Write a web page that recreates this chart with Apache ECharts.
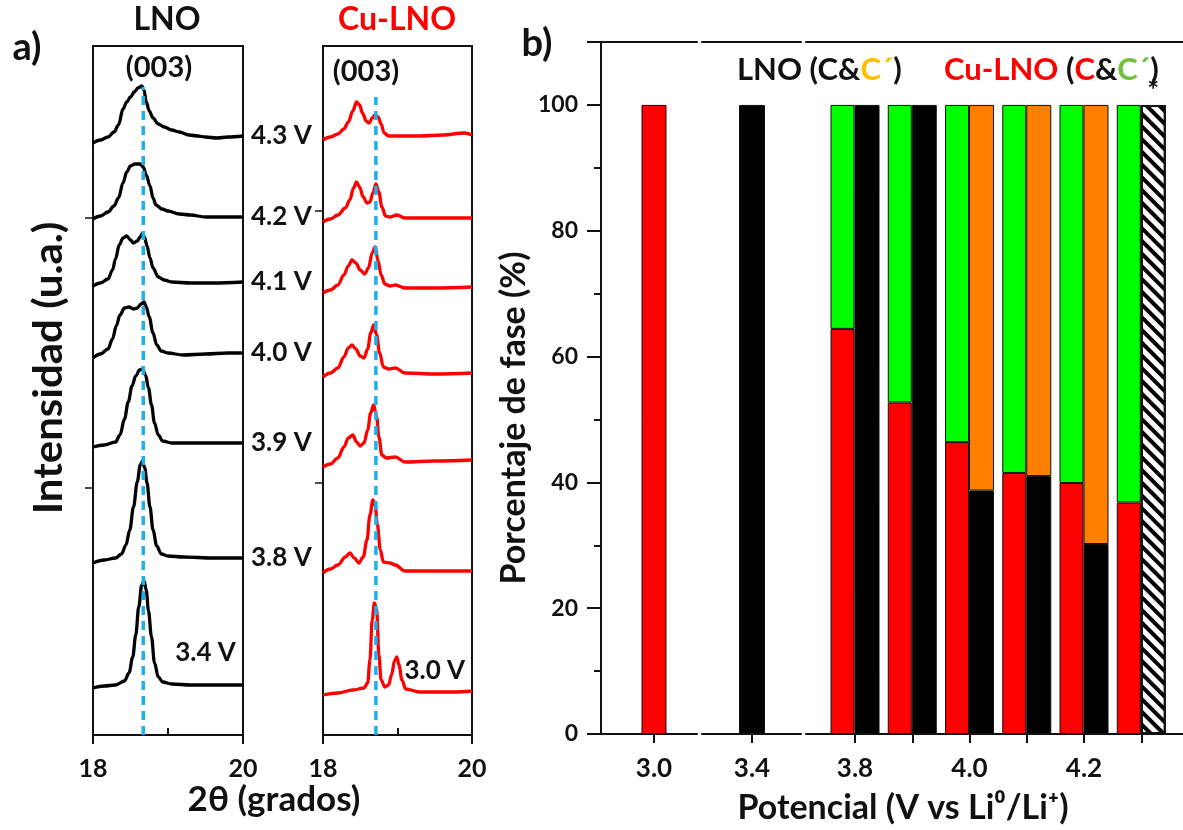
<!DOCTYPE html>
<html><head><meta charset="utf-8">
<script src="https://cdn.jsdelivr.net/npm/echarts@6/dist/echarts.min.js"></script>
<style>html,body{margin:0;padding:0;background:#fff}#c{width:1183px;height:830px}</style>
</head><body><div id="c"></div>
<script>
// ---------- Panel a) XRD (003) region : [2θ (grados), intensidad (u.a., stacked as plotted)] ----------
const lno43 = [[18.00,592],[18.10,595],[18.20,598],[18.28,603],[18.34,610],[18.40,626],[18.45,633],[18.50,638],[18.55,643],[18.60,647],[18.65,649],[18.68,645],[18.71,633],[18.75,624],[18.80,617],[18.87,611],[18.95,608],[19.05,605],[19.15,603],[19.28,600],[19.40,599],[19.50,598],[19.65,597],[19.80,598],[20.00,599]];
const lno42 = [[18.00,516],[18.10,519],[18.20,523],[18.28,529],[18.34,537],[18.40,552],[18.45,563],[18.50,569],[18.56,571],[18.63,571],[18.67,568],[18.71,560],[18.76,549],[18.80,537],[18.84,530],[18.92,526],[19.00,524],[19.15,521],[19.30,520],[19.50,518],[19.75,518],[20.00,518]];
const lno41 = [[18.00,449],[18.10,452],[18.20,456],[18.26,465],[18.30,476],[18.35,490],[18.40,497],[18.45,499],[18.50,495],[18.54,492],[18.59,494],[18.63,498],[18.66,502],[18.69,497],[18.72,489],[18.76,477],[18.80,467],[18.87,458],[18.95,455],[19.05,453],[19.30,452],[19.60,452],[20.00,453]];
const lno40 = [[18.00,377],[18.10,381],[18.20,386],[18.26,396],[18.31,409],[18.36,420],[18.42,427],[18.48,428],[18.54,426],[18.59,427],[18.64,431],[18.68,433],[18.71,428],[18.75,418],[18.80,402],[18.85,390],[18.91,384],[19.00,382],[19.20,380],[19.50,381],[19.80,382],[20.00,382]];
const lno39 = [[18.00,288],[18.15,290],[18.30,293],[18.36,300],[18.42,316],[18.47,333],[18.52,349],[18.57,359],[18.62,365],[18.66,366],[18.70,360],[18.74,347],[18.78,330],[18.82,312],[18.87,300],[18.93,294],[19.05,292],[19.40,292],[19.70,292],[20.00,292]];
const lno38 = [[18.00,172],[18.15,175],[18.30,177],[18.38,181],[18.44,190],[18.49,205],[18.54,228],[18.59,253],[18.63,270],[18.66,274],[18.69,267],[18.72,252],[18.76,228],[18.80,205],[18.85,189],[18.91,181],[19.00,179],[19.20,178],[19.60,177],[20.00,177]];
const lno34 = [[18.00,47],[18.15,49],[18.30,50],[18.42,54],[18.48,62],[18.53,78],[18.57,100],[18.61,128],[18.65,150],[18.68,154],[18.71,145],[18.74,124],[18.78,98],[18.82,72],[18.87,58],[18.93,53],[19.05,51],[19.30,50],[19.50,50],[19.75,50],[20.00,50]];

const cu43 = [[18.00,595],[18.10,598],[18.20,601],[18.28,606],[18.34,613],[18.40,624],[18.45,633],[18.49,630],[18.53,622],[18.58,614],[18.62,612],[18.66,617],[18.70,620],[18.74,618],[18.78,611],[18.82,602],[18.88,599],[19.00,599],[19.30,599],[19.60,600],[19.90,602],[20.00,600]];
const cu42 = [[18.00,513],[18.10,516],[18.20,520],[18.30,527],[18.36,535],[18.41,547],[18.45,553],[18.49,548],[18.54,538],[18.59,532],[18.63,533],[18.67,542],[18.71,551],[18.75,543],[18.79,528],[18.84,519],[18.90,518],[18.99,520],[19.10,517],[19.40,517],[20.00,517]];
const cu41 = [[18.00,442],[18.10,445],[18.20,450],[18.28,460],[18.34,469],[18.39,475],[18.44,472],[18.50,465],[18.56,461],[18.61,467],[18.66,482],[18.70,488],[18.74,474],[18.78,460],[18.83,451],[18.90,449],[18.97,450],[19.10,447],[19.50,447],[20.00,448]];
const cu40 = [[18.00,358],[18.10,362],[18.20,367],[18.28,378],[18.34,387],[18.39,390],[18.44,386],[18.50,379],[18.55,377],[18.60,386],[18.64,402],[18.68,410],[18.72,400],[18.76,382],[18.81,368],[18.88,366],[18.97,367],[19.10,362],[19.50,361],[20.00,362]];
const cu39 = [[18.00,268],[18.10,271],[18.20,277],[18.28,288],[18.34,297],[18.40,300],[18.45,293],[18.50,289],[18.55,292],[18.60,305],[18.64,322],[18.68,330],[18.72,318],[18.75,298],[18.79,280],[18.85,277],[18.97,278],[19.10,273],[19.50,274],[20.00,275]];
const cu38 = [[18.00,162],[18.10,166],[18.20,170],[18.30,178],[18.36,182],[18.42,177],[18.48,172],[18.54,178],[18.59,195],[18.63,220],[18.67,235],[18.70,230],[18.73,210],[18.77,185],[18.81,173],[18.90,172],[18.97,170],[19.10,164],[19.50,164],[20.00,164]];
const cu30 = [[18.00,40],[18.20,42],[18.40,45],[18.55,47],[18.60,52],[18.63,75],[18.66,115],[18.69,132],[18.72,125],[18.75,80],[18.78,55],[18.83,48],[18.88,50],[18.92,60],[18.96,74],[18.99,78],[19.02,70],[19.06,55],[19.11,46],[19.30,43],[19.50,43],[19.75,43],[20.00,44]];

const lnoTraces = [lno43, lno42, lno41, lno40, lno39, lno38, lno34];
const lnoNames  = ['4.3 V','4.2 V','4.1 V','4.0 V','3.9 V','3.8 V','3.4 V'];
const cuTraces  = [cu43, cu42, cu41, cu40, cu39, cu38, cu30];
const cuNames   = ['4.3 V','4.2 V','4.1 V','4.0 V','3.9 V','3.8 V','3.0 V'];
const lnoRef = [[18.67, 0], [18.67, 648]];   // (003) reference, LNO
const cuRef  = [[18.71, 0], [18.71, 638]];   // (003) reference, Cu-LNO
const innerLabelTheta = 19.5;                // trace point that carries the in-box voltage label
const xrdTicks = [18, 20];
const xrdMinor = [19];

// ---------- Panel b) phase percentages ----------
const potentials   = ['3.8', '3.9', '4.0', '4.1', '4.2', '4.3'];
const cuC          = [64.4, 52.7, 46.4, 41.5, 39.9, 36.8];   // Cu-LNO, C (red)
const cuCprime     = [35.6, 47.3, 53.6, 58.5, 60.1, 63.2];   // Cu-LNO, C´ (green)
const lnoC         = [100, 100, 38.7, 41.0, 30.2, '-'];     // LNO, C (black)
const lnoCprime    = ['-', '-', 61.3, 59.0, 69.8, '-'];      // LNO, C´ (orange)
const lnoOther     = ['-', '-', '-', '-', '-', 100];          // LNO * (hatched)
const cuPristine   = [[3.0, 100]];                           // Cu-LNO at 3.0 V
const lnoPristine  = [[3.4, 100]];                           // LNO at 3.4 V
const pctLabels    = [0, 20, 40, 60, 80, 100];
const pctMajor     = [0, 20, 40, 60, 80, 100, 110];
const pctMinor     = [10, 30, 50, 70, 90];

const FONT = 'Lato, "Open Sans", sans-serif';
const RED = '#FF0000', GREEN = '#00FF00', ORANGE = '#FF8000', BLACK = '#000000', CYAN = '#1FB0EA', INK = '#111111';

const chart = echarts.init(document.getElementById('c'), null, {renderer: 'canvas'});

const grids = [
  {left: 93,  top: 46, width: 150, height: 689, show: true},   // 0 LNO xrd
  {left: 323, top: 46, width: 149, height: 689, show: true},   // 1 Cu-LNO xrd
  {left: 601, top: 42, width: 96,  height: 692},               // 2 bars 3.0
  {left: 702, top: 42, width: 99,  height: 692},               // 3 bars 3.4
  {left: 806, top: 42, width: 377, height: 692},               // 4 axis lines of 3.8-4.3 segment
  {left: 826.4, top: 42, width: 343.5, height: 692}            // 5 category bars 3.8-4.3
].map(g => Object.assign({containLabel: false, show: false, borderColor: INK, borderWidth: 2, backgroundColor: 'transparent'}, g));

const axisLbl = {fontFamily: FONT, fontWeight: 'bold', color: INK};
const lineOnly = pos => ({position: pos, axisLine: {show: true, onZero: false, lineStyle: {color: INK, width: 2}},
  axisTick: {show: false}, axisLabel: {show: false}, splitLine: {show: false}});
const xAxes = [], yAxes = [];

// XRD axes: xAxis 0..3, yAxis 0..1
[0, 1].forEach(gi => {
  xAxes.push({type: 'value', gridIndex: gi, min: 18, max: 20, position: 'bottom',
    axisLine: {show: false, onZero: false}, splitLine: {show: false},
    axisTick: {show: true, inside: false, length: 9, customValues: xrdTicks, lineStyle: {color: INK, width: 2}},
    axisLabel: Object.assign({show: true, customValues: xrdTicks, fontSize: 25, margin: 21}, axisLbl)});
  xAxes.push({type: 'value', gridIndex: gi, min: 18, max: 20, position: 'bottom',
    axisLine: {show: false, onZero: false}, splitLine: {show: false}, axisLabel: {show: false},
    axisTick: {show: true, inside: true, length: 7, customValues: xrdMinor, lineStyle: {color: INK, width: 2}}});
  yAxes.push({type: 'value', gridIndex: gi, min: 0, max: 689, position: 'left',
    axisLine: {show: false, onZero: false}, splitLine: {show: false}, axisLabel: {show: false},
    axisTick: {show: true, inside: false, length: 8, customValues: gi === 0 ? [247, 517] : [252, 524], lineStyle: {color: INK, width: 1.5}}});
});

// 3.0 segment: xAxis 4 (bottom), 5 (top); yAxis 2 (labels), 6 (minor ticks)
xAxes.push({type: 'value', gridIndex: 2, min: 2.47, max: 3.43, position: 'bottom',
  axisLine: {show: true, onZero: false, lineStyle: {color: INK, width: 2}}, splitLine: {show: false},
  axisTick: {show: true, length: 9, customValues: [3.0], lineStyle: {color: INK, width: 2}},
  axisLabel: Object.assign({show: true, customValues: [3.0], fontSize: 26, margin: 22, formatter: v => Number(v).toFixed(1)}, axisLbl)});
xAxes.push(Object.assign({type: 'value', gridIndex: 2, min: 2.47, max: 3.43}, lineOnly('top')));
// 3.4 segment: xAxis 6, 7
xAxes.push({type: 'value', gridIndex: 3, min: 2.90, max: 3.89, position: 'bottom',
  axisLine: {show: true, onZero: false, lineStyle: {color: INK, width: 2}}, splitLine: {show: false},
  axisTick: {show: true, length: 9, customValues: [3.4], lineStyle: {color: INK, width: 2}},
  axisLabel: Object.assign({show: true, customValues: [3.4], fontSize: 26, margin: 22, formatter: v => Number(v).toFixed(1)}, axisLbl)});
xAxes.push(Object.assign({type: 'value', gridIndex: 3, min: 2.90, max: 3.89}, lineOnly('top')));
// 3.8-4.3 segment lines: xAxis 8, 9
xAxes.push(Object.assign({type: 'value', gridIndex: 4, min: 0, max: 1}, lineOnly('bottom')));
xAxes.push(Object.assign({type: 'value', gridIndex: 4, min: 0, max: 1}, lineOnly('top')));
// category axis: xAxis 10
xAxes.push({type: 'category', gridIndex: 5, data: potentials, boundaryGap: true, position: 'bottom',
  axisLine: {show: false, onZero: false}, splitLine: {show: false},
  axisTick: {show: true, alignWithLabel: true, interval: 0, length: 9, lineStyle: {color: INK, width: 2}},
  axisLabel: Object.assign({show: true, interval: 1, fontSize: 26, margin: 22}, axisLbl)});

// y axes for bar grids: 2 (visible), 3, 4, 5 (category grid), 6 minor ticks
yAxes.push({type: 'value', gridIndex: 2, min: 0, max: 110, position: 'left',
  axisLine: {show: true, onZero: false, lineStyle: {color: INK, width: 2}}, splitLine: {show: false},
  axisTick: {show: true, length: 14, customValues: pctMajor, lineStyle: {color: INK, width: 2}},
  axisLabel: Object.assign({show: true, customValues: pctLabels, fontSize: 23, margin: 23}, axisLbl)});
[3, 4, 5].forEach(gi => yAxes.push({type: 'value', gridIndex: gi, min: 0, max: 110, show: false}));
yAxes.push({type: 'value', gridIndex: 2, min: 0, max: 110, position: 'left', offset: 0,
  axisLine: {show: false, onZero: false}, splitLine: {show: false}, axisLabel: {show: false},
  axisTick: {show: true, length: 7, customValues: pctMinor, lineStyle: {color: INK, width: 2}}});

const series = [];
const vLabel = {fontSize: 26, fontFamily: FONT, fontWeight: 'bold', color: INK};
lnoTraces.forEach((tr, i) => {
  const last = i === lnoTraces.length - 1;
  series.push({type: 'line', name: 'LNO ' + lnoNames[i], xAxisIndex: 0, yAxisIndex: 0, data: tr,
    showSymbol: false, symbol: 'none', smooth: 0.35, smoothMonotone: 'x', silent: true, z: 2,
    lineStyle: {color: BLACK, width: 3.3},
    endLabel: Object.assign({show: !last, formatter: lnoNames[i], distance: 8}, vLabel)});
});
cuTraces.forEach((tr, i) => {
  series.push({type: 'line', name: 'Cu-LNO ' + cuNames[i], xAxisIndex: 2, yAxisIndex: 1, data: tr,
    showSymbol: false, symbol: 'none', smooth: 0.35, smoothMonotone: 'x', silent: true, z: 2,
    lineStyle: {color: RED, width: 3.3}});
});
// in-box labels (3.4 V, 3.0 V) anchored on the trace point at innerLabelTheta
const pick = tr => tr.find(p => p[0] === innerLabelTheta);
series.push({type: 'scatter', xAxisIndex: 0, yAxisIndex: 0, symbolSize: 0, silent: true, itemStyle: {opacity: 1},
  data: [pick(lno34)], label: Object.assign({show: true, position: 'top', distance: 19, formatter: lnoNames[6]}, vLabel)});
series.push({type: 'scatter', xAxisIndex: 2, yAxisIndex: 1, symbolSize: 0, silent: true, itemStyle: {opacity: 1},
  data: [pick(cu30)], label: Object.assign({show: true, position: 'top', distance: 8, formatter: cuNames[6]}, vLabel)});
// (003) dashed references
[[lnoRef, 0, 0], [cuRef, 2, 1]].forEach(([d, xi, yi]) => {
  series.push({type: 'line', xAxisIndex: xi, yAxisIndex: yi, data: d, showSymbol: false, symbol: 'none', silent: true, z: 5,
    lineStyle: {color: CYAN, width: 3.5, type: [9, 6]}});
});

// bars
const barBorder = {borderColor: INK, borderWidth: 1};
series.push({type: 'bar', name: 'Cu-LNO C 3.0', xAxisIndex: 4, yAxisIndex: 2, data: cuPristine, barWidth: 25,
  itemStyle: Object.assign({color: RED}, barBorder)});
series.push({type: 'bar', name: 'LNO C 3.4', xAxisIndex: 6, yAxisIndex: 3, data: lnoPristine, barWidth: 26,
  itemStyle: Object.assign({color: BLACK}, barBorder)});
const barCommon = {type: 'bar', xAxisIndex: 10, yAxisIndex: 5, barGap: '0%'};
series.push(Object.assign({name: 'Cu-LNO C', stack: 'cu', barWidth: 24, data: cuC, itemStyle: Object.assign({color: RED}, barBorder)}, barCommon));
series.push(Object.assign({name: 'Cu-LNO C´', stack: 'cu', barWidth: 24, data: cuCprime, itemStyle: Object.assign({color: GREEN}, barBorder)}, barCommon));
series.push(Object.assign({name: 'LNO C', stack: 'lno', barWidth: 25, data: lnoC, itemStyle: Object.assign({color: BLACK}, barBorder)}, barCommon));
series.push(Object.assign({name: 'LNO C´', stack: 'lno', barWidth: 25, data: lnoCprime, itemStyle: Object.assign({color: ORANGE}, barBorder)}, barCommon));
series.push(Object.assign({name: 'LNO *', stack: 'lno', barWidth: 25, data: lnoOther,
  itemStyle: {color: '#ffffff', borderColor: INK, borderWidth: 2,
    decal: {symbol: 'rect', color: '#000', dashArrayX: [1, 0], dashArrayY: [4, 5], rotation: Math.PI / 4, symbolSize: 1}},
  label: {show: true, position: 'top', distance: 0, formatter: '*', fontSize: 28, fontFamily: FONT, fontWeight: 'bold', color: INK}},
  barCommon));

const txt = (text, x, y, size, extra) => Object.assign({type: 'text', x, y, silent: true,
  style: {text, font: 'bold ' + size + 'px ' + FONT, fill: (extra && extra.fill) || INK, align: 'center', verticalAlign: 'middle'}},
  extra && extra.rotation ? {rotation: extra.rotation} : {},
  extra && extra.scaleX ? {scaleX: extra.scaleX} : {});

const LF = 'bold 31px ' + FONT;
const legendRich = {k: {font: LF, fill: INK}, o: {font: LF, fill: '#FFC000'}, r: {font: LF, fill: RED}, g: {font: LF, fill: '#70C040'}};
const graphic = [
  txt('a)', 27, 48, 38),
  txt('b)', 537, 44, 38),
  txt('LNO', 167, 20, 32),
  txt('Cu-LNO', 397, 20, 32, {fill: RED}),
  txt('(003)', 159, 68, 29),
  txt('(003)', 366, 72, 29),
  txt('Intensidad (u.a.)', 49, 368, 40, {rotation: Math.PI / 2, scaleX: 1.05}),
  txt('2θ (grados)', 274, 800, 35),
  txt('Porcentaje de fase (%)', 514, 418, 34, {rotation: Math.PI / 2}),
  txt('Potencial (V vs Li⁰/Li⁺)', 903, 808, 34),
  {type: 'text', x: 737, y: 70, silent: true, style: {text: '{k|LNO (C&}{o|C´}{k|)}', align: 'left', verticalAlign: 'middle', rich: legendRich}},
  {type: 'text', x: 944, y: 70, silent: true, style: {text: '{r|Cu-LNO }{k|(}{r|C}{k|&}{g|C´}{k|)}', align: 'left', verticalAlign: 'middle', rich: legendRich}}
];

chart.setOption({
  animation: false,
  backgroundColor: '#ffffff',
  grid: grids, xAxis: xAxes, yAxis: yAxes, series, graphic
});
</script></body></html>
